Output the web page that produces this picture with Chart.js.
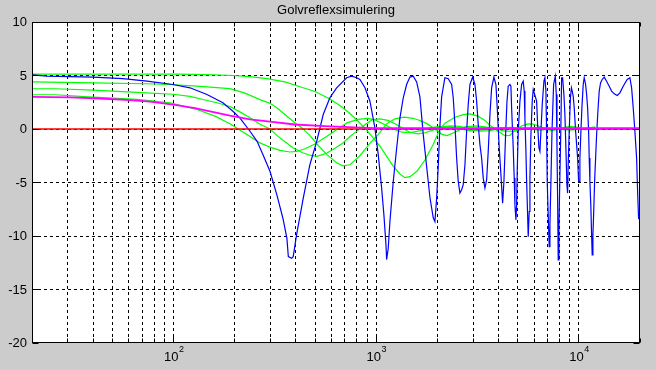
<!DOCTYPE html>
<html>
<head>
<meta charset="utf-8">
<script src="https://cdn.jsdelivr.net/npm/chart.js@4/dist/chart.umd.min.js"></script>
<style>
html,body{margin:0;padding:0;background:#cccccc;}
canvas{display:block;}
</style>
</head>
<body>
<canvas id="c" width="656" height="370"></canvas>
<script>
// ---------- text ----------
const chartTitle = 'Golvreflexsimulering';
const yTickValues = [10, 5, 0, -5, -10, -15, -20];
const xMajorTicks = [100, 1000, 10000];
const xMajorBase = ['10', '10', '10'];
const xMajorExp = ['2', '3', '4'];
const xGridValues = [20,30,40,50,60,70,80,90,100,200,300,400,500,600,700,800,900,
  1000,2000,3000,4000,5000,6000,7000,8000,9000,10000,20000];

// ---------- data (frequency in Hz, level in dB) ----------
const redFreq = [20, 20000];
const redLevel = [0, 0];

const magentaFreq = [20, 30.8, 43.3, 60.9, 76.4, 101.5, 127.4, 151.1, 189.6, 238, 299, 396.7, 557.9, 784, 1000, 1308, 20000];
const magentaLevel = [3.0, 2.95, 2.85, 2.7, 2.55, 2.25, 1.95, 1.65, 1.25, 0.9, 0.68, 0.42, 0.26, 0.15, 0.08, 0.07, 0.07];

const blueFreq = [
  20, 23.7, 40, 56.2, 73.9, 99.2, 120.4, 146, 175, 196,
  212, 238, 258, 276, 299, 323, 346, 362, 368, 382,
  389, 404, 436, 470, 508, 547, 590, 637, 714, 755,
  800, 830, 879, 930, 984, 1022, 1062, 1090, 1116, 1124,
  1145, 1167, 1212, 1260, 1308, 1358, 1411, 1465, 1521, 1581,
  1641, 1704, 1771, 1839, 1909, 1946, 1984, 2021, 2060, 2100,
  2180, 2264, 2353, 2396, 2443, 2490, 2536, 2585, 2636, 2684,
  2737, 2790, 2841, 2897, 2987, 3066, 3126, 3183, 3245, 3308,
  3369, 3435, 3502, 3566, 3636, 3706, 3804, 3892, 3950, 4040,
  4119, 4199, 4262, 4335, 4410, 4475, 4562, 4614, 4651, 4737,
  4791, 4829, 4885, 4924, 4957, 5014, 5111, 5211, 5307, 5367,
  5410, 5472, 5516, 5579, 5617, 5681, 5727, 5792, 5878, 5945,
  6013, 6109, 6179, 6250, 6343, 6416, 6489, 6586, 6714, 6790,
  6867, 6922, 6970, 7049, 7130, 7187, 7269, 7359, 7494, 7640,
  7727, 7789, 7843, 7897, 7960, 8051, 8143, 8208, 8302, 8425,
  8521, 8618, 8717, 8786, 8847, 8948, 9071, 9175, 9258, 9364,
  9472, 9624, 9734, 9845, 9957, 10025, 10105, 10221, 10337, 10491,
  10611, 10781, 10904, 11029, 11155, 11231, 11321, 11450, 11541, 11620,
  11713, 11807, 11941, 12078, 12216, 12397, 12582, 12783, 13018, 13317,
  13685, 14095, 14486, 14920, 15438, 15917, 16525, 17294, 17833, 18180,
  18515, 18875, 19243, 19464, 19684, 20000
];
const blueLevel = [
  5.05, 4.94, 4.85, 4.7, 4.47, 4.16, 3.85, 3.22, 2.45, 1.66,
  1.04, -0.21, -1.15, -2.4, -3.97, -6.15, -8.34, -10.2, -11.93, -12.09,
  -11.93, -9.9, -6.46, -3.34, -1.15, 1.35, 2.92, 3.85, 4.79, 4.94,
  4.79, 4.63, 3.85, 2.6, 0.1, -2.4, -5.52, -8.03, -10.84, -12.2,
  -11.15, -8.65, -4.9, -1.77, 1.04, 2.92, 4.16, 4.85, 4.94, 4.4,
  3.0, -0.5, -3.5, -6.4, -8.3, -8.65, -6.5, -3.5, 0.3, 3.0,
  4.79, 4.7, 4.16, 2.92, 0.41, -2.71, -4.9, -5.99, -5.68, -5.21,
  -3.34, -0.21, 2.29, 4.16, 4.85, 4.16, 2.6, 0.41, -1.46, -2.71,
  -4.59, -5.52, -4.74, -2.09, 1.35, 3.85, 4.85, 4.16, 1.98, -1.77,
  -4.28, -6.93, -4.9, -1.0, 2.5, 4.0, 4.16, 4.0, 1.98, -1.77,
  -4.59, -7.09, -8.49, -7.09, -3.97, -0.21, 2.6, 4.16, 4.47, 3.54,
  1.04, -2.09, -4.9, -8.03, -10.06, -7.71, -4.59, -0.53, 2.6, 3.69,
  3.38, 2.92, 2.6, 0.41, -1.77, -2.09, -0.21, 2.29, 4.47, 4.79,
  3.54, -0.21, -4.9, -8.03, -11.0, -8.96, -4.9, -0.21, 4.16, 4.94,
  3.22, -1.77, -6.46, -12.24, -9.27, -4.28, 0.41, 4.79, 4.79, 3.22,
  1.35, -1.77, -5.21, -5.99, -3.34, -0.21, 2.9, 3.85, 3.54, 3.07,
  1.98, -0.21, -1.46, -2.71, -4.9, -4.9, -2.71, -0.21, 1.98, 4.16,
  4.79, 4.16, 3.22, 1.98, -0.21, -2.71, -4.9, -7.4, -9.9, -11.77,
  -9.9, -8.03, -4.9, -2.71, -0.53, 1.66, 3.54, 4.32, 4.63, 4.85,
  4.47, 4.0, 3.54, 3.29, 3.13, 3.38, 4.0, 4.63, 4.79, 3.85,
  1.98, -0.21, -2.71, -5.84, -8.34, -8.5
];

const green1Freq = [20, 105, 159.9, 196, 238, 288.7, 354, 419.9, 498, 590, 661.4, 741, 811.5, 900, 1042, 1208, 1308, 1384, 1465, 1586, 1737, 1902, 2060, 2180, 2443, 2684, 2897, 3172, 3435, 3636, 3981, 4311, 4562, 4829, 5229, 5598, 5925, 6271, 6790, 7385, 7810, 8330, 9020, 9880, 10781, 11321, 11990];
const green1Level = [5.12, 5.12, 5.05, 5.0, 4.9, 4.7, 4.4, 3.95, 3.5, 2.8, 2.2, 1.45, 0.75, -0.15, -1.6, -3.45, -4.2, -4.55, -4.45, -3.95, -2.9, -1.5, 0.0, 0.55, 1.1, 1.35, 1.42, 1.2, 0.8, 0.35, -0.2, -0.62, -0.6, -0.1, 0.3, 0.48, 0.45, 0.3, 0.0, -0.15, -0.05, 0.1, 0.25, 0.15, -0.05, 0.1, 0.2];

const green2Freq = [20, 40, 73.9, 95.9, 130.3, 189.6, 224.8, 266.6, 299, 323, 354, 387.8, 429.6, 470, 509, 570.7, 639.3, 684.5, 741, 830, 930, 1022, 1128, 1236, 1368.5, 1516, 1641, 1777, 1946, 2107, 2231, 2443, 2737, 3066, 3435, 3848, 4311, 4829, 5410, 6416, 7640, 9020, 10781, 11990];
const green2Level = [4.41, 4.32, 4.23, 4.16, 4.0, 3.78, 3.35, 2.75, 2.4, 1.98, 1.35, 0.72, 0.1, -0.6, -1.4, -2.4, -3.18, -3.45, -3.34, -2.5, -1.35, -0.5, 0.5, 0.95, 1.1, 1.0, 0.8, 0.5, 0.0, -0.5, -0.62, -0.3, 0.2, 0.3, 0.2, 0.0, -0.2, -0.2, 0.05, 0.15, 0.0, -0.1, 0.05, 0.1];

const green3Freq = [20, 26, 40, 65.9, 99.2, 120.4, 139.5, 163.6, 189.6, 212, 238, 266.6, 299, 323, 354, 387.8, 429.6, 470, 509, 570.7, 625, 684.5, 741, 802, 879, 950, 1042, 1141, 1250, 1368.5, 1465, 1604, 1737, 1902, 2060, 2308, 2585, 2897, 3245, 3636, 4072, 4667, 5410, 6416, 7640, 9020, 10781, 11990];
const green3Level = [3.76, 3.76, 3.63, 3.42, 3.25, 3.05, 2.76, 2.45, 2.1, 1.6, 1.05, 0.45, 0.0, -0.6, -1.2, -1.75, -2.2, -2.45, -2.56, -2.25, -1.8, -1.3, -0.7, -0.2, 0.4, 0.85, 0.95, 0.8, 0.45, 0.0, -0.3, -0.45, -0.35, -0.1, 0.15, 0.3, 0.25, 0.0, -0.2, -0.15, 0.05, 0.15, 0.0, -0.1, 0.05, 0.1, -0.05, 0.0];

const green4Freq = [20, 26, 40, 65.9, 95.9, 130.3, 159.9, 189.6, 224.8, 266.6, 299, 334.6, 374.9, 405.8, 444.5, 498, 570.7, 639.3, 716.2, 811.5, 909, 984, 1103, 1208, 1338, 1465, 1641, 1839, 2060, 2308, 2585, 2897, 3245, 3636, 4311, 5111, 6416, 8051, 11990];
const green4Level = [3.2, 3.2, 2.97, 2.76, 2.45, 1.82, 1.2, 0.5, -0.4, -1.3, -1.7, -2.0, -2.15, -2.1, -1.85, -1.4, -0.68, -0.05, 0.57, 0.9, 1.0, 0.85, 0.4, 0.0, -0.3, -0.35, -0.15, 0.1, 0.25, 0.2, 0.0, -0.15, -0.1, 0.05, 0.1, -0.05, 0.05, 0.0, 0.0];

function pts(fs, vs) { return fs.map((f, i) => ({x: f, y: vs[i]})); }

const FONT = '"Liberation Sans", Arial, sans-serif';

const matlabAxes = {
  id: 'matlabAxes',
  beforeDatasetsDraw(chart) {
    const {ctx, chartArea: a, scales: {x, y}} = chart;
    ctx.save();
    ctx.fillStyle = '#ffffff';
    ctx.fillRect(a.left, a.top, a.right - a.left, a.bottom - a.top);
    ctx.strokeStyle = '#000000';
    ctx.lineWidth = 1;
    ctx.setLineDash([3, 3]);
    xGridValues.forEach(v => {
      if (v <= 20 || v >= 20000) return;
      const px = Math.round(x.getPixelForValue(v) - 0.5) + 0.5;
      ctx.beginPath(); ctx.moveTo(px, a.top); ctx.lineTo(px, a.bottom); ctx.stroke();
    });
    yTickValues.forEach(v => {
      if (v >= 10 || v <= -20) return;
      const py = Math.round(y.getPixelForValue(v) - 0.5) + 0.5;
      ctx.beginPath(); ctx.moveTo(a.left, py); ctx.lineTo(a.right, py); ctx.stroke();
    });
    ctx.restore();
  },
  afterDatasetsDraw(chart) {
    const {ctx, chartArea: a, scales: {x, y}} = chart;
    ctx.save();
    ctx.strokeStyle = '#000000';
    ctx.lineWidth = 1;
    ctx.setLineDash([]);
    const L = Math.round(a.left) + 0.5, R = Math.round(a.right) - 0.5;
    const T = Math.round(a.top) + 0.5, B = Math.round(a.bottom) - 0.5;
    ctx.strokeRect(L, T, R - L, B - T);
    xGridValues.forEach(v => {
      const px = Math.round(x.getPixelForValue(v) - 0.5) + 0.5;
      const len = xMajorTicks.includes(v) ? 6 : 4;
      ctx.beginPath();
      ctx.moveTo(px, B); ctx.lineTo(px, B - len);
      ctx.moveTo(px, T); ctx.lineTo(px, T + len);
      ctx.stroke();
    });
    yTickValues.forEach(v => {
      const py = Math.round(y.getPixelForValue(v) - 0.5) + 0.5;
      ctx.beginPath();
      ctx.moveTo(L, py); ctx.lineTo(L + 6, py);
      ctx.moveTo(R, py); ctx.lineTo(R - 6, py);
      ctx.stroke();
    });
    ctx.restore();
  },
  afterDraw(chart) {
    const {ctx, chartArea: a, scales: {x, y}} = chart;
    ctx.save();
    ctx.fillStyle = '#000000';
    ctx.font = '13px ' + FONT;
    ctx.textAlign = 'center';
    ctx.textBaseline = 'alphabetic';
    ctx.fillText(chartTitle, (a.left + a.right) / 2, 14);
    ctx.textAlign = 'right';
    ctx.textBaseline = 'middle';
    yTickValues.forEach(v => {
      ctx.fillText(String(v), a.left - 5, y.getPixelForValue(v) + 0.5);
    });
    xMajorTicks.forEach((v, i) => {
      const px = x.getPixelForValue(v);
      ctx.font = '13px ' + FONT;
      const wb = ctx.measureText(xMajorBase[i]).width;
      ctx.font = '9px ' + FONT;
      const we = ctx.measureText(xMajorExp[i]).width;
      const x0 = px - (wb + we) / 2;
      ctx.textAlign = 'left';
      ctx.textBaseline = 'alphabetic';
      ctx.font = '13px ' + FONT;
      ctx.fillText(xMajorBase[i], x0, 361);
      ctx.font = '9px ' + FONT;
      ctx.fillText(xMajorExp[i], x0 + wb + 0.5, 352);
    });
    ctx.restore();
  }
};

const lineDs = (label, data, color, order, width) => ({
  label, data, borderColor: color, backgroundColor: color,
  borderWidth: width || 1, pointRadius: 0, tension: 0, fill: false, order
});

new Chart(document.getElementById('c'), {
  type: 'line',
  data: {
    datasets: [
      lineDs('magenta', pts(magentaFreq, magentaLevel), '#ff00ff', 0, 1.8),
      lineDs('red', pts(redFreq, redLevel), '#ff0000', 1, 1.4),
      lineDs('blue', pts(blueFreq, blueLevel), '#0000ff', 2, 1.2),
      lineDs('green1', pts(green1Freq, green1Level), '#00ff00', 3, 1.2),
      lineDs('green2', pts(green2Freq, green2Level), '#00ff00', 4, 1.2),
      lineDs('green3', pts(green3Freq, green3Level), '#00ff00', 5, 1.2),
      lineDs('green4', pts(green4Freq, green4Level), '#00ff00', 6, 1.2)
    ]
  },
  options: {
    responsive: false,
    animation: false,
    events: [],
    layout: {padding: {left: 32, right: 16, top: 22, bottom: 27}},
    plugins: {legend: {display: false}, title: {display: false}, tooltip: {enabled: false}},
    scales: {
      x: {type: 'logarithmic', min: 20, max: 20000, display: false},
      y: {type: 'linear', min: -20, max: 10, display: false}
    }
  },
  plugins: [matlabAxes]
});
</script>
</body>
</html>
